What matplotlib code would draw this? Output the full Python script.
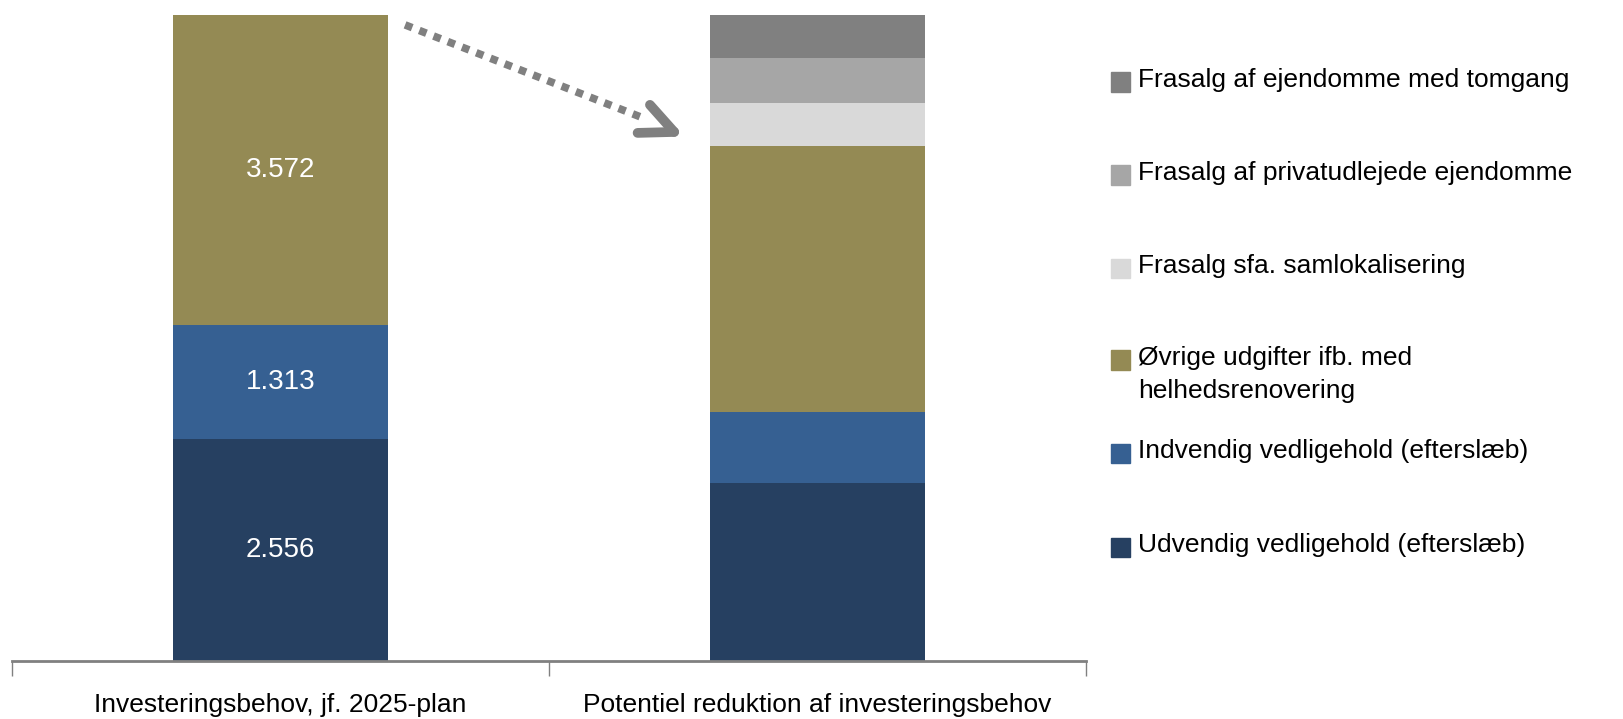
import numpy as np
import matplotlib.pyplot as plt
from matplotlib.patches import Rectangle

plt.rcParams['font.family'] = ['Liberation Sans', 'DejaVu Sans']

categories = ['Investeringsbehov, jf. 2025-plan', 'Potentiel reduktion af investeringsbehov']

# stack order bottom -> top
series_names = [
    'Udvendig vedligehold (efterslæb)',
    'Indvendig vedligehold (efterslæb)',
    'Øvrige udgifter ifb. med\nhelhedsrenovering',
    'Frasalg sfa. samlokalisering',
    'Frasalg af privatudlejede ejendomme',
    'Frasalg af ejendomme med tomgang',
]
udvendig = [2.556, 2.05]
indvendig = [1.313, 0.82]
oevrige = [3.572, 3.06]
samlokalisering = [0.0, 0.50]
privatudlejede = [0.0, 0.51]
tomgang = [0.0, 0.50]
values = [udvendig, indvendig, oevrige, samlokalisering, privatudlejede, tomgang]
labelled = [True, True, True, False, False, False]

colors = ['#264061', '#366092', '#948A54', '#D9D9D9', '#A6A6A6', '#808080']

W, H = 1623, 719
fig = plt.figure(figsize=(W / 100, H / 100), dpi=100)
ax = fig.add_axes([12 / W, 1 - 661 / H, (1086 - 12) / W, (661 - 15) / H])

x = np.arange(len(categories))
bottom = np.zeros(len(categories))
for vals, col, lab in zip(values, colors, labelled):
    vals = np.array(vals)
    ax.bar(x, vals, width=0.4, bottom=bottom, color=col, edgecolor='none')
    if lab:
        # only the current plan bar carries value labels
        ax.text(x[0], bottom[0] + vals[0] / 2, f'{vals[0]:.3f}',
                ha='center', va='center', color='white', fontsize=20)
    bottom += vals

ax.set_xlim(-0.5, 1.5)
ax.set_ylim(0, max(bottom))

for s in ['left', 'right', 'top']:
    ax.spines[s].set_visible(False)
ax.spines['bottom'].set_color('#808080')
ax.spines['bottom'].set_linewidth(2)
ax.set_yticks([])
ax.set_xticks(x)
ax.set_xticklabels(categories, fontsize=19)
ax.tick_params(axis='x', which='major', length=0, pad=23)
ax.set_xticks([-0.5, 0.5, 1.5], minor=True)
ax.tick_params(axis='x', which='minor', length=11, width=1, color='#808080')

# dotted arrow between the two bars
ax.plot([0.232, 0.675], [7.327, 6.256], color='#808080', lw=5.5,
        linestyle=(0, (1, 1.0)), dash_capstyle='butt', clip_on=False)
tip = (0.733, 6.094)
for arm in [(0.688, 6.406), (0.665, 6.083)]:
    ax.plot([arm[0], tip[0]], [arm[1], tip[1]], color='#808080', lw=7,
            solid_capstyle='round', clip_on=False)

# legend drawn by hand, top entry first
legend_y = [82, 175, 268, 360, 453, 547]
for name, col, y in zip(series_names[::-1], colors[::-1], legend_y):
    fig.patches.append(Rectangle((1111 / W, 1 - (y + 9.5) / H), 19 / W, 19 / H,
                                 transform=fig.transFigure, color=col))
    fig.text(1138 / W, 1 - (y - 14) / H, name, fontsize=19, va='top',
             ha='left', linespacing=1.45)

fig.savefig('out.png', dpi=100)
